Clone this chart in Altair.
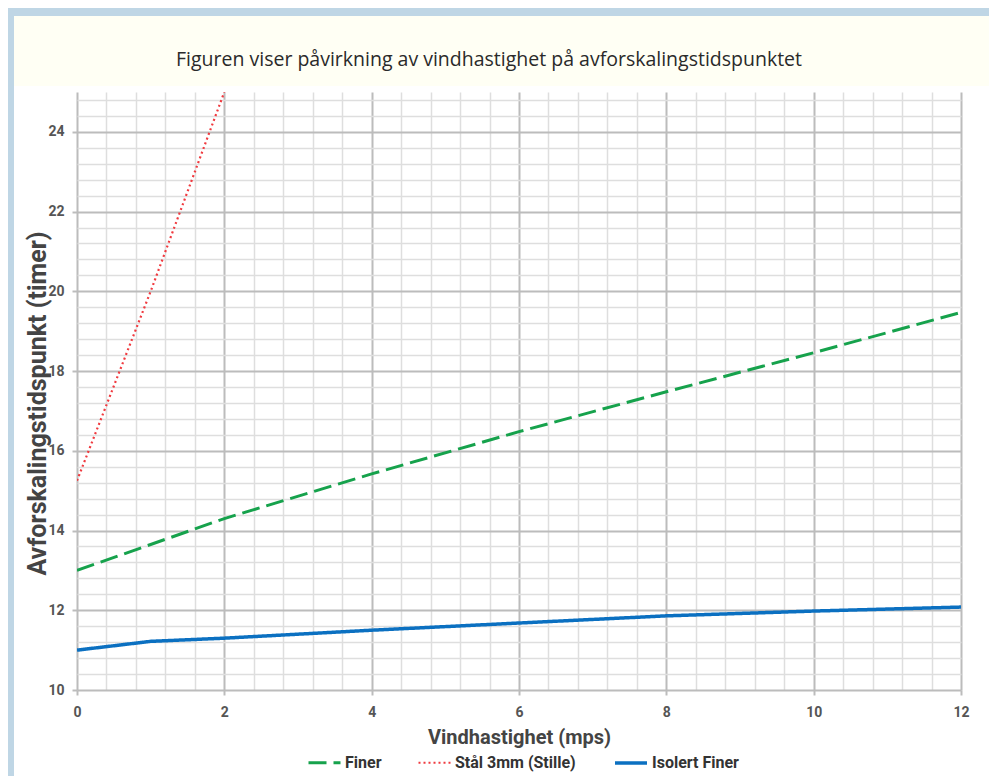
import altair as alt
import pandas as pd

# ---- data ----
series_names = ["Finer", "Stål 3mm (Stille)", "Isolert Finer"]

wind_finer = [0, 1, 2, 4, 6, 8, 10, 12]
finer = [13.0, 13.65, 14.3, 15.42, 16.48, 17.48, 18.46, 19.47]

wind_staal = [0, 1, 2]
staal = [15.25, 20.0, 25.0]

wind_isolert = [0, 1, 2, 4, 6, 8, 10, 12]
isolert = [11.0, 11.22, 11.3, 11.5, 11.68, 11.86, 11.98, 12.08]

x_ticks = [round(i * 0.4, 1) for i in range(31)]        # 0 .. 12, minor every 0.4
y_ticks = [round(10 + i * 0.4, 1) for i in range(38)]   # 10 .. 24.8

title_text = "Figuren viser påvirkning av vindhastighet på avforskalingstidspunktet"
x_title = "Vindhastighet (mps)"
y_title = "Avforskalingstidspunkt (timer)"

colors = ["#16a24c", "#f03a3f", "#0b70c1"]
dashes = [[18, 7], [2, 3], [1, 0]]
widths = [3, 2.2, 3.5]

# ---- build table ----
rows = []
for x, y in zip(wind_finer, finer):
    rows.append({"wind": x, "time": y, "series": series_names[0]})
for x, y in zip(wind_staal, staal):
    rows.append({"wind": x, "time": y, "series": series_names[1]})
for x, y in zip(wind_isolert, isolert):
    rows.append({"wind": x, "time": y, "series": series_names[2]})
df = pd.DataFrame(rows)

dummy = pd.DataFrame({"t": [title_text]})

FONT = "Roboto"
major_test = "abs(datum.value/2 - round(datum.value/2)) < 0.01"

W, H = 884, 598
BLUE = "#bfd6e5"
CREAM = "#fffff4"

# decorative frame pieces
left_strip = alt.Chart(dummy).mark_rect(color=BLUE).encode(
    x=alt.value(-69), x2=alt.value(-63), y=alt.value(-84), y2=alt.value(700))
top_strip = alt.Chart(dummy).mark_rect(color=BLUE).encode(
    x=alt.value(-69), x2=alt.value(930), y=alt.value(-84), y2=alt.value(-76))
band = alt.Chart(dummy).mark_rect(color=CREAM).encode(
    x=alt.value(-63), x2=alt.value(930), y=alt.value(-76), y2=alt.value(-6))
title = alt.Chart(dummy).mark_text(
    font="Open Sans", fontSize=19.5, color="#2a2a2a", align="center", baseline="middle"
).encode(text="t:N", x=alt.value(412), y=alt.value(-32))

x_axis = alt.Axis(
    values=x_ticks,
    title=x_title,
    labelExpr=f"{major_test} ? format(datum.value, 'd') : ''",
    gridColor={"condition": {"test": major_test, "value": "#bcbcbc"}, "value": "#dedede"},
    gridWidth={"condition": {"test": major_test, "value": 2}, "value": 1.5},
    tickOpacity={"condition": {"test": major_test, "value": 1}, "value": 0},
    domain=False,
    labelFlush=False,
    labelOverlap=False,
    tickSize=5,
    labelPadding=10,
    titlePadding=8,
    titleFontSize=20,
)
y_axis = alt.Axis(
    values=y_ticks,
    title=y_title,
    labelExpr=f"{major_test} ? format(datum.value, 'd') : ''",
    gridColor={"condition": {"test": major_test, "value": "#bcbcbc"}, "value": "#dedede"},
    gridWidth={"condition": {"test": major_test, "value": 2}, "value": 1.5},
    tickOpacity={"condition": {"test": major_test, "value": 1}, "value": 0},
    domain=False,
    labelFlush=False,
    labelOverlap=False,
    tickSize=5,
    labelPadding=8,
    titleFontSize=25,
    titleX=-40,
    titleY=311,
    titleBaseline="middle",
)

lines = alt.Chart(df).mark_line(clip=True).encode(
    x=alt.X("wind:Q", scale=alt.Scale(domain=[0, 12], nice=False, zero=False), axis=x_axis),
    y=alt.Y("time:Q", scale=alt.Scale(domain=[10, 25], nice=False, zero=False), axis=y_axis),
    color=alt.Color(
        "series:N",
        scale=alt.Scale(domain=series_names, range=colors),
        title=None,
        legend=alt.Legend(
            orient="none", direction="horizontal", legendX=230, legendY=653,
            symbolType="stroke", symbolSize=1024, symbolStrokeWidth=3,
            labelFont=FONT, labelFontSize=16, labelFontWeight="bold", labelColor="#333333",
            labelOffset=3, columnPadding=32,
        ),
    ),
    strokeDash=alt.StrokeDash(
        "series:N", scale=alt.Scale(domain=series_names, range=dashes), title=None
    ),
    strokeWidth=alt.StrokeWidth(
        "series:N", scale=alt.Scale(type="ordinal", domain=series_names, range=widths), legend=None
    ),
    order=alt.Order("wind:Q"),
)

chart = alt.layer(left_strip, top_strip, band, title, lines).properties(
    width=W, height=H,
    autosize=alt.AutoSizeParams(type="none"),
    padding={"left": 69, "top": 84, "right": 28, "bottom": 86},
).configure(background="white").configure_view(strokeWidth=0).configure_axis(
    labelFont=FONT, labelFontSize=14, labelFontWeight="bold", labelColor="#555555",
    titleFont=FONT, titleFontWeight="bold", titleColor="#444444",
    tickColor="#bcbcbc", tickWidth=2,
)

chart.save("out.html", embed_options={"renderer": "svg", "actions": False})
